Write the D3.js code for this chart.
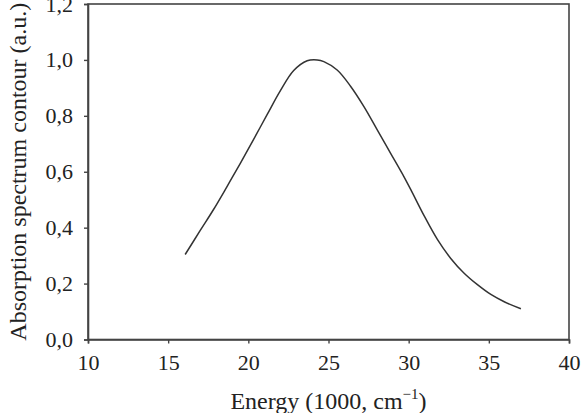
<!DOCTYPE html>
<html>
<head>
<meta charset="utf-8">
<script src="https://cdn.jsdelivr.net/npm/d3@7"></script>
<style>
  html, body { margin: 0; padding: 0; background: #fff; }
  svg { display: block; }
  text { font-family: "Liberation Serif", "Times New Roman", serif; fill: #222; }
</style>
</head>
<body>
<svg id="chart" width="582" height="413"></svg>
<script>
// Data
const energy = [16.06, 17.0, 17.83, 18.67, 19.5, 20.33, 21.17, 22.0, 22.83, 23.67, 24.3, 24.71, 25.54, 26.375, 27.21, 28.04, 28.875, 29.71, 30.125, 30.96, 31.79, 32.625, 33.46, 34.29, 35.125, 35.96, 37.0];
const absorbance = [0.304, 0.39, 0.465, 0.547, 0.630, 0.716, 0.804, 0.890, 0.962, 0.997, 1.0, 0.994, 0.964, 0.906, 0.833, 0.750, 0.666, 0.582, 0.537, 0.443, 0.358, 0.290, 0.237, 0.196, 0.161, 0.135, 0.110];
const xTicks = [10, 15, 20, 25, 30, 35, 40];
const yTicks = [0, 0.2, 0.4, 0.6, 0.8, 1.0, 1.2];
const xLabel = "Energy (1000, cm";
const xLabelSup = "\u22121";
const yLabel = "Absorption spectrum contour (a.u.)";

const svg = d3.select("#chart");
const margin = { left: 88, right: 13, top: 4, bottom: 73.5 };
const W = 582, H = 413;
const x = d3.scaleLinear().domain([10, 40]).range([margin.left, W - margin.right]);
const y = d3.scaleLinear().domain([0, 1.2]).range([H - margin.bottom, margin.top]);

const fmt = d => d3.format(".1f")(d).replace(".", ",");
const axisColor = "#444";
const tickFont = 22;
const labelFont = 24;

// Frame
svg.append("rect")
  .attr("x", x(10)).attr("y", y(1.2))
  .attr("width", x(40) - x(10)).attr("height", y(0) - y(1.2))
  .attr("fill", "none").attr("stroke", axisColor).attr("stroke-width", 1.6);

// X axis
const gx = svg.append("g")
  .attr("transform", `translate(0,${y(0)})`)
  .call(d3.axisBottom(x).tickValues(xTicks).tickSize(4).tickPadding(11).tickFormat(d3.format("d")));
gx.select(".domain").attr("stroke", axisColor).attr("stroke-width", 1.6);
gx.selectAll(".tick line").attr("stroke", axisColor).attr("stroke-width", 1.4);
gx.selectAll(".tick text").attr("font-size", tickFont).attr("font-family", "Liberation Serif").attr("fill", "#222");

// Y axis
const gy = svg.append("g")
  .attr("transform", `translate(${x(10)},0)`)
  .call(d3.axisLeft(y).tickValues(yTicks).tickSize(4).tickPadding(11).tickFormat(fmt));
gy.select(".domain").attr("stroke", axisColor).attr("stroke-width", 1.6);
gy.selectAll(".tick line").attr("stroke", axisColor).attr("stroke-width", 1.4);
gy.selectAll(".tick text").attr("font-size", tickFont).attr("font-family", "Liberation Serif").attr("fill", "#222");

// Curve
const line = d3.line()
  .x((d, i) => x(energy[i]))
  .y((d, i) => y(absorbance[i]))
  .curve(d3.curveCatmullRom.alpha(0.5));
svg.append("path")
  .datum(energy)
  .attr("d", line)
  .attr("fill", "none")
  .attr("stroke", "#333")
  .attr("stroke-width", 1.5);

// X label
const xl = svg.append("text")
  .attr("x", (x(10) + x(40)) / 2)
  .attr("y", 409)
  .attr("text-anchor", "middle")
  .attr("font-size", labelFont);
xl.append("tspan").text(xLabel);
xl.append("tspan").attr("font-size", 15).attr("dy", -10).text(xLabelSup);
xl.append("tspan").attr("dy", 10).text(")");

// Y label
svg.append("text")
  .attr("transform", `translate(26,${(y(0) + y(1.2)) / 2}) rotate(-90)`)
  .attr("text-anchor", "middle")
  .attr("font-size", labelFont)
  .text(yLabel);
</script>
</body>
</html>
